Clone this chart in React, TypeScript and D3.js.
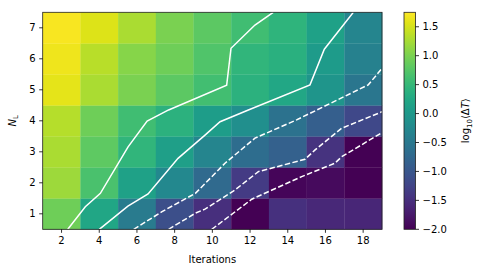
import * as d3 from "d3";
import { useMemo } from "react";

// heatmap grid: columns are iterations, rows are N_L (bottom to top)
const iterations = [2, 4, 6, 8, 10, 12, 14, 16, 18];
const nLayers = [1, 2, 3, 4, 5, 6, 7];
const logDeltaT = [
  [0.92, 0.22, -0.45, -1.1, -1.5, -2.0, -1.48, -1.58, -1.6],
  [1.2, 0.67, 0.14, -0.25, -0.72, -1.35, -1.95, -1.9, -2.0],
  [1.28, 0.82, 0.45, 0.1, -0.3, -0.68, -0.85, -1.45, -2.0],
  [1.33, 0.92, 0.6, 0.4, 0.07, -0.15, -0.58, -0.88, -1.18],
  [1.6, 1.28, 1.0, 0.8, 0.62, 0.4, 0.23, -0.05, -0.53],
  [1.65, 1.35, 1.07, 0.92, 0.72, 0.45, 0.38, 0.05, -0.37],
  [1.72, 1.55, 1.28, 1.0, 0.8, 0.6, 0.44, 0.14, -0.3],
];

// contour lines, [iteration, N_L]
const contour05: [number, number][] = [
  [2.33, 0.5], [3.26, 1.23], [4.06, 1.66], [5.53, 3.16], [6.54, 3.99],
  [7.68, 4.35], [10.76, 5.15], [10.99, 6.34], [12.26, 7.09], [13.23, 7.5],
];
const contour0: [number, number][] = [
  [4.0, 0.5], [5.52, 1.25], [6.59, 1.64], [8.18, 2.79], [9.61, 3.54],
  [10.41, 3.97], [11.91, 4.35], [15.18, 5.16], [15.94, 6.31], [17.48, 7.5],
];
const contourM05: [number, number][] = [
  [5.83, 0.5], [7.33, 1.07], [9.1, 1.66], [10.67, 2.63], [12.26, 3.44],
  [14.47, 4.03], [18.27, 5.16], [19, 5.69],
];
const contourM1: [number, number][] = [
  [7.68, 0.5], [9.1, 1.02], [9.61, 1.15], [11.2, 1.77], [12.44, 2.36],
  [14.92, 2.76], [15.45, 3.06], [16.86, 3.76], [19, 4.29],
];
const contourM15: [number, number][] = [
  [9.97, 0.5], [12.09, 1.47], [14.74, 2.2], [16.5, 2.63], [16.86, 2.84], [19, 3.62],
];

const xTicks = [2, 4, 6, 8, 10, 12, 14, 16, 18];
const yTicks = [1, 2, 3, 4, 5, 6, 7];
const cbarTicks = [-2.0, -1.5, -1.0, -0.5, 0.0, 0.5, 1.0, 1.5];

const W = 480;
const H = 276;
const plot = { left: 42.7, right: 382, top: 12.3, bottom: 229.3 };
const cbar = { left: 404, right: 415.5 };
const font = "DejaVu Sans, sans-serif";

export default function App() {
  const x = d3.scaleLinear().domain([1, 19]).range([plot.left, plot.right]);
  const y = d3.scaleLinear().domain([0.5, 7.5]).range([plot.bottom, plot.top]);
  const color = d3.scaleSequential(d3.interpolateViridis).domain([-2.0, 1.75]);
  const cy = d3.scaleLinear().domain([-2.0, 1.75]).range([plot.bottom, plot.top]);

  const line = d3
    .line<[number, number]>()
    .x((d) => x(d[0]))
    .y((d) => y(d[1]));

  const stops = useMemo(() => d3.range(0, 1.0001, 0.05), []);

  const fmt = (v: number) => (v < 0 ? "\u2212" : "") + Math.abs(v).toFixed(1);

  return (
    <svg
      width={W}
      height={H}
      style={{ position: "absolute", left: 0, top: 0, background: "#fff" }}
      fontFamily={font}
    >
      <defs>
        <linearGradient id="viridis" x1="0" y1="1" x2="0" y2="0">
          {stops.map((t) => (
            <stop key={t} offset={t} stopColor={d3.interpolateViridis(t)} />
          ))}
        </linearGradient>
        <clipPath id="plotClip">
          <rect x={plot.left} y={plot.top} width={plot.right - plot.left} height={plot.bottom - plot.top} />
        </clipPath>
      </defs>

      {/* cells */}
      {logDeltaT.map((row, ri) =>
        row.map((v, ci) => (
          <rect
            key={`${ri}-${ci}`}
            x={x(iterations[ci] - 1)}
            y={y(nLayers[ri] + 0.5)}
            width={x(iterations[ci] + 1) - x(iterations[ci] - 1) + 0.3}
            height={y(nLayers[ri] - 0.5) - y(nLayers[ri] + 0.5) + 0.3}
            fill={color(v)}
          />
        ))
      )}

      {/* contours: solid for >= 0, dashed for negative */}
      <g clipPath="url(#plotClip)" fill="none" stroke="#fff" strokeWidth={1.5}>
        <path d={line(contour05) ?? ""} />
        <path d={line(contour0) ?? ""} />
        <path d={line(contourM05) ?? ""} strokeDasharray="5.5,2.4" />
        <path d={line(contourM1) ?? ""} strokeDasharray="5.5,2.4" />
        <path d={line(contourM15) ?? ""} strokeDasharray="5.5,2.4" />
      </g>

      <rect
        x={plot.left}
        y={plot.top}
        width={plot.right - plot.left}
        height={plot.bottom - plot.top}
        fill="none"
        stroke="#222"
        strokeWidth={0.8}
      />

      {/* x axis */}
      {xTicks.map((t) => (
        <g key={t} transform={`translate(${x(t)},${plot.bottom})`}>
          <line y2={3.5} stroke="#000" strokeWidth={0.8} />
          <text y={13} textAnchor="middle" fontSize={10} dominantBaseline="hanging" dy={-6}>
            {t}
          </text>
        </g>
      ))}
      <text x={(plot.left + plot.right) / 2} y={263} textAnchor="middle" fontSize={10}>
        Iterations
      </text>

      {/* y axis */}
      {yTicks.map((t) => (
        <g key={t} transform={`translate(${plot.left},${y(t)})`}>
          <line x2={-3.5} stroke="#000" strokeWidth={0.8} />
          <text x={-7} textAnchor="end" fontSize={10} dy="0.36em">
            {t}
          </text>
        </g>
      ))}
      <text transform={`translate(16,${(plot.top + plot.bottom) / 2}) rotate(-90)`} textAnchor="middle" fontSize={10}>
        <tspan fontStyle="italic">N</tspan>
        <tspan fontSize={7} dy={2}>L</tspan>
      </text>

      {/* colorbar */}
      <rect
        x={cbar.left}
        y={plot.top}
        width={cbar.right - cbar.left}
        height={plot.bottom - plot.top}
        fill="url(#viridis)"
        stroke="#222"
        strokeWidth={0.8}
      />
      {cbarTicks.map((t) => (
        <g key={t} transform={`translate(${cbar.right},${cy(t)})`}>
          <line x2={3.5} stroke="#000" strokeWidth={0.8} />
          <text x={7} fontSize={10} dy="0.36em">
            {fmt(t)}
          </text>
        </g>
      ))}
      <text
        transform={`translate(469,${(plot.top + plot.bottom) / 2}) rotate(-90)`}
        textAnchor="middle"
        fontSize={10}
      >
        log
        <tspan fontSize={7} dy={2.5}>10</tspan>
        <tspan dy={-2.5}>{"\u27e8\u0394"}</tspan>
        <tspan fontStyle="italic">T</tspan>
        {"\u27e9"}
      </text>
    </svg>
  );
}
